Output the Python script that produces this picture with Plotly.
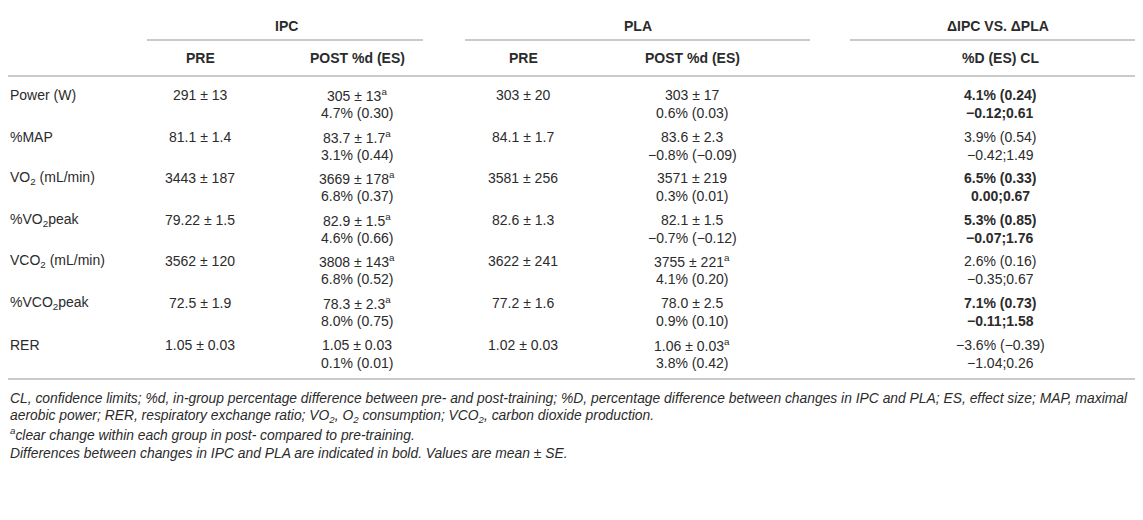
import plotly.graph_objects as go

# ---------------- data ----------------
variables = ["Power (W)", "%MAP", "VO<sub>2</sub> (mL/min)", "%VO<sub>2</sub>peak",
             "VCO<sub>2</sub> (mL/min)", "%VCO<sub>2</sub>peak", "RER"]
ipc_pre = ["291 ± 13", "81.1 ± 1.4", "3443 ± 187", "79.22 ± 1.5", "3562 ± 120", "72.5 ± 1.9", "1.05 ± 0.03"]
ipc_post = ["305 ± 13", "83.7 ± 1.7", "3669 ± 178", "82.9 ± 1.5", "3808 ± 143", "78.3 ± 2.3", "1.05 ± 0.03"]
ipc_post_clear = [True, True, True, True, True, True, False]
ipc_pct_es = ["4.7% (0.30)", "3.1% (0.44)", "6.8% (0.37)", "4.6% (0.66)", "6.8% (0.52)", "8.0% (0.75)", "0.1% (0.01)"]
pla_pre = ["303 ± 20", "84.1 ± 1.7", "3581 ± 256", "82.6 ± 1.3", "3622 ± 241", "77.2 ± 1.6", "1.02 ± 0.03"]
pla_post = ["303 ± 17", "83.6 ± 2.3", "3571 ± 219", "82.1 ± 1.5", "3755 ± 221", "78.0 ± 2.5", "1.06 ± 0.03"]
pla_post_clear = [False, False, False, False, True, False, True]
pla_pct_es = ["0.6% (0.03)", "−0.8% (−0.09)", "0.3% (0.01)", "−0.7% (−0.12)", "4.1% (0.20)", "0.9% (0.10)", "3.8% (0.42)"]
diff_pct_es = ["4.1% (0.24)", "3.9% (0.54)", "6.5% (0.33)", "5.3% (0.85)", "2.6% (0.16)", "7.1% (0.73)", "−3.6% (−0.39)"]
diff_cl = ["−0.12;0.61", "−0.42;1.49", "0.00;0.67", "−0.07;1.76", "−0.35;0.67", "−0.11;1.58", "−1.04;0.26"]
diff_bold = [True, False, True, True, False, True, False]

group_headers = ["IPC", "PLA", "ΔIPC VS. ΔPLA"]
sub_headers = ["PRE", "POST %d (ES)", "PRE", "POST %d (ES)", "%D (ES) CL"]

footnotes = [
    "CL, confidence limits; %d, in-group percentage difference between pre- and post-training; %D, percentage difference between changes in IPC and PLA; ES, effect size; MAP, maximal",
    "aerobic power; RER, respiratory exchange ratio; VO<sub>2</sub>, O<sub>2</sub> consumption; VCO<sub>2</sub>, carbon dioxide production.",
    "<sup>a</sup>clear change within each group in post- compared to pre-training.",
    "Differences between changes in IPC and PLA are indicated in bold. Values are mean ± SE.",
]

# ---------------- layout ----------------
PAGE_W, PAGE_H = 1143, 520
OFF = 8  # page body margin
W, H = PAGE_W - OFF, PAGE_H - OFF
FONT = "Liberation Sans, Arial, Helvetica, sans-serif"
TXT = "#2b2b2b"
LINE = "#b8b8b8"
FS = 14
FS_FOOT = 13.85

label_x = 8
col_x = [200, 357, 523, 692, 1000]
group_x = [286, 638, 998]
group_span = [(147, 423), (465, 810), (850, 1143)]
y_group, y_sub = 26, 58
y_top, y_group_line, y_head_line, y_bottom = 7, 40, 76, 379
row_y0, row_step, line_step = 95, 41.6, 18
foot_y0, foot_step = 398, 18.2

ann = []


def add(x, y, text, anchor="center", bold=False, italic=False, size=FS):
    t = text
    if bold:
        t = "<b>" + t + "</b>"
    if italic:
        t = "<i>" + t + "</i>"
    ann.append(dict(x=x, y=y, xref="x", yref="y", text=t, showarrow=False,
                    xanchor=anchor, yanchor="middle",
                    font=dict(family=FONT, size=size, color=TXT)))


for gx, g in zip(group_x, group_headers):
    add(gx, y_group, g, bold=True)
for cx, s in zip(col_x, sub_headers):
    add(cx, y_sub, s, bold=True)

sup = "<sup>a</sup>"
for i, v in enumerate(variables):
    y1 = row_y0 + i * row_step
    y2 = y1 + line_step
    add(label_x, y1, v, anchor="left")
    add(col_x[0], y1, ipc_pre[i])
    add(col_x[1], y1, ipc_post[i] + (sup if ipc_post_clear[i] else ""))
    add(col_x[1], y2, ipc_pct_es[i])
    add(col_x[2], y1, pla_pre[i])
    add(col_x[3], y1, pla_post[i] + (sup if pla_post_clear[i] else ""))
    add(col_x[3], y2, pla_pct_es[i])
    add(col_x[4], y1, diff_pct_es[i], bold=diff_bold[i])
    add(col_x[4], y2, diff_cl[i], bold=diff_bold[i])

for j, f in enumerate(footnotes):
    add(label_x, foot_y0 + j * foot_step, f, anchor="left", italic=True, size=FS_FOOT)

shapes = []
for y in (y_top, y_head_line, y_bottom):
    shapes.append(dict(type="line", xref="x", yref="y", x0=0, x1=PAGE_W, y0=y, y1=y,
                       line=dict(color=LINE, width=1.5)))
for (a, b) in group_span:
    shapes.append(dict(type="line", xref="x", yref="y", x0=a, x1=b, y0=y_group_line, y1=y_group_line,
                       line=dict(color=LINE, width=1.5)))

fig = go.Figure()
fig.update_layout(
    width=W, height=H, margin=dict(l=0, r=0, t=0, b=0),
    paper_bgcolor="white", plot_bgcolor="white",
    xaxis=dict(range=[OFF, PAGE_W], visible=False, fixedrange=True),
    yaxis=dict(range=[PAGE_H, OFF], visible=False, fixedrange=True),
    annotations=ann, shapes=shapes, showlegend=False,
)
fig.write_html("out.html")
